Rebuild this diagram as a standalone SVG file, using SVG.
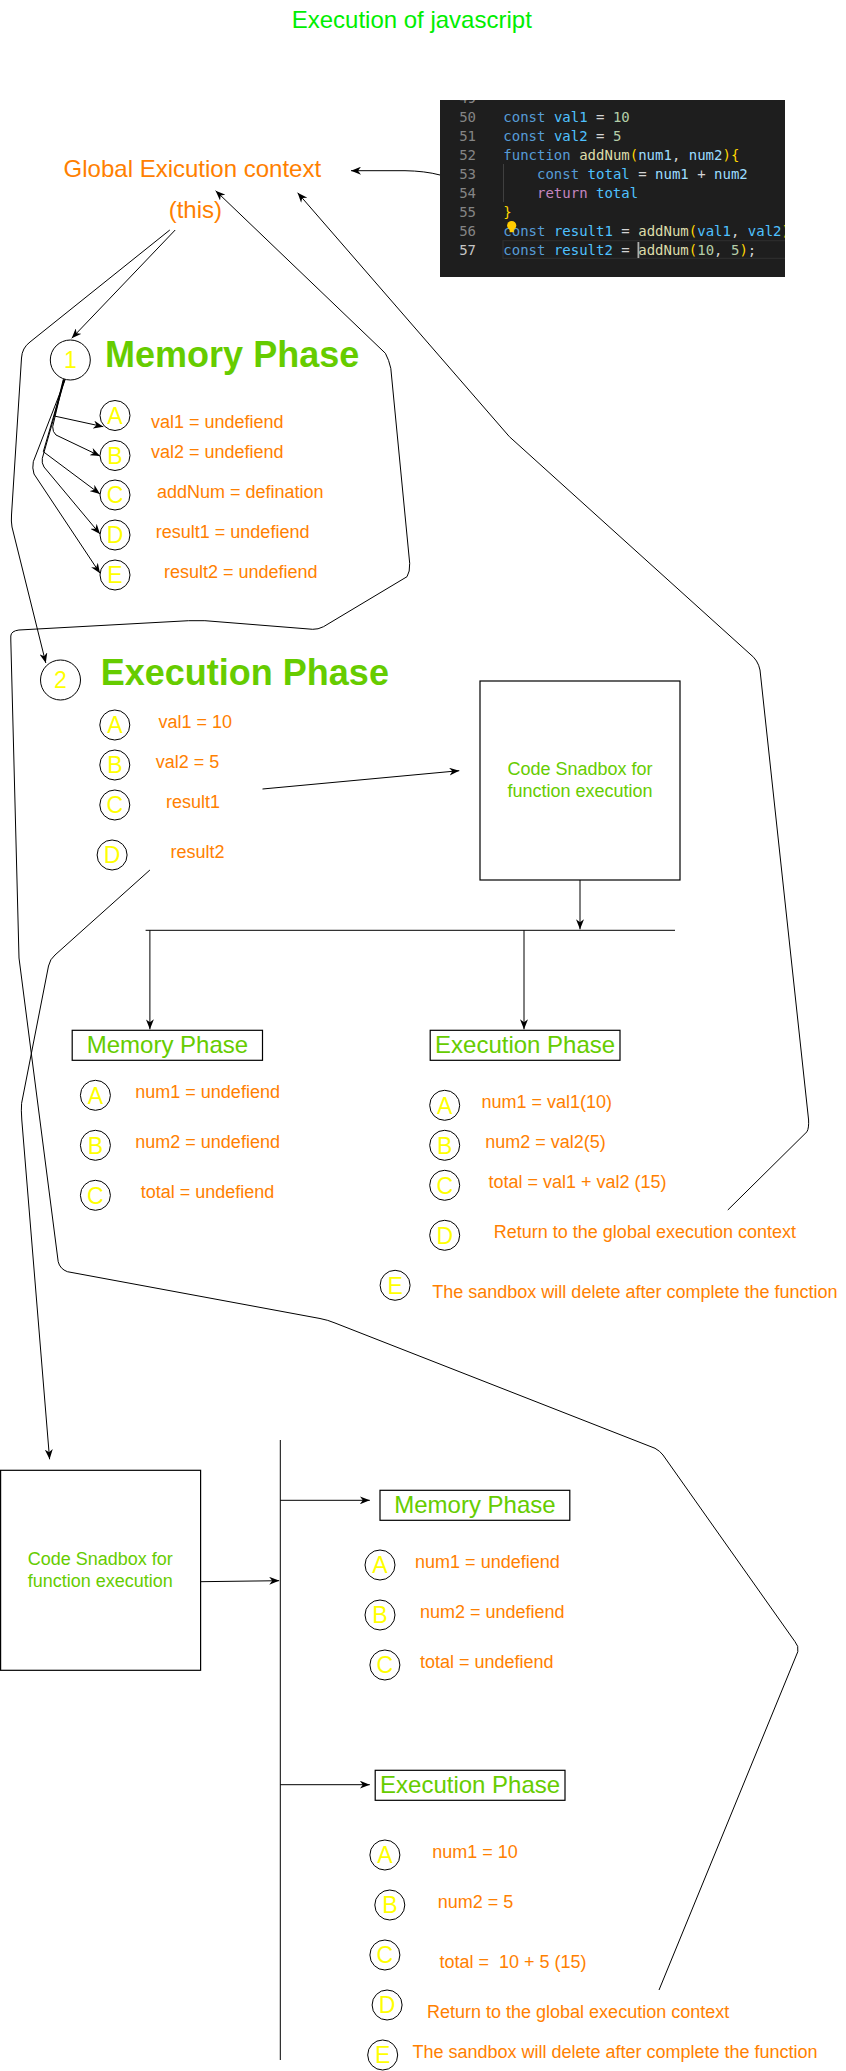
<svg xmlns="http://www.w3.org/2000/svg" width="846" height="2071" viewBox="0 0 846 2071">
<defs>
<style>
text{font-family:"Liberation Sans",Arial,sans-serif}
.o{font-size:18px;fill:#FF8000}
.g18{font-size:18px;fill:#66CC00;text-anchor:middle}
.g24{font-size:24px;fill:#66CC00;text-anchor:middle}
.big{font-size:36px;font-weight:bold;fill:#66CC00}
.lt{font-size:23px;fill:#FFFF00;text-anchor:middle}
.c{fill:#fff;stroke:#000;stroke-width:1}
.bx{fill:#fff;stroke:#000;stroke-width:1.2}
.e{fill:none;stroke:#000;stroke-width:1}
.m{marker-end:url(#arr)}
.code{font-family:"DejaVu Sans Mono",monospace;font-size:14px;fill:#d4d4d4}
.ln{font-family:"DejaVu Sans Mono",monospace;font-size:14px;fill:#858585;text-anchor:end}
.k{fill:#569cd6}.v{fill:#4fc1ff}.p{fill:#9cdcfe}.n{fill:#b5cea8}.f{fill:#dcdcaa}.b{fill:#ffd700}.r{fill:#c586c0}
</style>
<marker id="arr" viewBox="0 0 10 8" refX="10" refY="4" markerWidth="10" markerHeight="8" orient="auto" markerUnits="userSpaceOnUse">
<path d="M0,0 L10,4 L0,8 L3,4 z" fill="#000"/>
</marker>
<clipPath id="codeclip"><rect x="440" y="100" width="345" height="177"/></clipPath>
</defs>
<rect width="846" height="2071" fill="#fff"/>

<g id="title"><text x="291.7" y="28.3" style="font-size:24px;fill:#00EE00">Execution of javascript</text></g>

<g id="code-snippet">
<rect x="440" y="100" width="345" height="177" fill="#1e1e1e"/>
<g clip-path="url(#codeclip)">
<rect x="503" y="240.7" width="290" height="17.6" fill="none" stroke="#303030" stroke-width="1"/>
<line x1="503.5" y1="164" x2="503.5" y2="202" stroke="#404040" stroke-width="1"/>
<text class="ln" x="476" y="102.5">49</text>
<text class="ln" x="476" y="121.5">50</text>
<text class="ln" x="476" y="140.5">51</text>
<text class="ln" x="476" y="159.5">52</text>
<text class="ln" x="476" y="178.5">53</text>
<text class="ln" x="476" y="197.5">54</text>
<text class="ln" x="476" y="216.5">55</text>
<text class="ln" x="476" y="235.5">56</text>
<text class="ln" x="476" y="254.5" style="fill:#c6c6c6">57</text>
<text class="code" x="503.3" y="121.5" xml:space="preserve"><tspan class="k">const</tspan> <tspan class="v">val1</tspan> = <tspan class="n">10</tspan></text>
<text class="code" x="503.3" y="140.5" xml:space="preserve"><tspan class="k">const</tspan> <tspan class="v">val2</tspan> = <tspan class="n">5</tspan></text>
<text class="code" x="503.3" y="159.5" xml:space="preserve"><tspan class="k">function</tspan> <tspan class="f">addNum</tspan><tspan class="b">(</tspan><tspan class="p">num1</tspan>, <tspan class="p">num2</tspan><tspan class="b">){</tspan></text>
<text class="code" x="537" y="178.5" xml:space="preserve"><tspan class="k">const</tspan> <tspan class="v">total</tspan> = <tspan class="p">num1</tspan> + <tspan class="p">num2</tspan></text>
<text class="code" x="537" y="197.5" xml:space="preserve"><tspan class="r">return</tspan> <tspan class="v">total</tspan></text>
<text class="code" x="503.3" y="216.5"><tspan class="b">}</tspan></text>
<text class="code" x="503.3" y="235.5" xml:space="preserve"><tspan class="k">const</tspan> <tspan class="v">result1</tspan> = <tspan class="f">addNum</tspan><tspan class="b">(</tspan><tspan class="v">val1</tspan>, <tspan class="v">val2</tspan><tspan class="b">)</tspan>;</text>
<text class="code" x="503.3" y="254.5" xml:space="preserve"><tspan class="k">const</tspan> <tspan class="v">result2</tspan> = <tspan class="f">addNum</tspan><tspan class="b">(</tspan><tspan class="n">10</tspan>, <tspan class="n">5</tspan><tspan class="b">)</tspan>;</text>
<rect x="637.5" y="242" width="1.8" height="16" fill="#aeafad"/>
<circle cx="511.7" cy="225.5" r="4.6" fill="#ffcc00"/>
<rect x="509.6" y="229" width="4.2" height="3.2" fill="#ffcc00"/>
</g>
</g>

<g id="global-context">
<text x="63.6" y="176.7" style="font-size:24px;fill:#FF8000">Global Exicution context</text>
<text x="168.7" y="218.3" style="font-size:24px;fill:#FF8000">(this)</text>
</g>

<g id="connectors">
<path class="e m" d="M440,175 Q425,171 405,170.7 L351,170.7"/>
<path class="e m" d="M169.8,230 L30,342 Q22,348 21.5,358 L11.5,515 Q11,521 12,527 L45.8,663"/>
<path class="e m" d="M175.2,230 L71.7,338.3"/>
<path class="e m" d="M659,1990 L797.8,1651.7 Q799,1646 795,1641.7 L663,1455 Q660,1451 655,1448.3 L335,1323 Q328,1320 320,1318.5 L67.4,1271.7 Q60,1269 58.2,1261.7 L19,958 L10.8,640 L10.8,636 Q11,631 18.9,630 L188.7,620.7 L204.9,620.7 L312.7,629.3 Q318,629.5 323.5,626.7 L407,576.7 Q410,572 409.7,563.3 L390.8,368.3 Q389,360 385.4,353.3 L215.6,190.7"/>
<path class="e m" d="M727.8,1210 L807,1131.7 Q809,1128 808.6,1120 L760,670 Q758,660 750,654 L509.4,436.7 L297.6,192.7"/>
<path class="e m" d="M149.9,870 L55,955 Q50,959 48.5,966 L21.6,1103.3 Q21,1110 21.8,1120 L49.6,1459.3"/>
<path class="e m" d="M262.5,789 L459.3,770.7"/>
<path class="e m" d="M63.3,379.3 L54.3,416 L103.3,426.7"/>
<path class="e m" d="M63.8,379.3 L52.7,426.7 Q52.5,432 56,435 L100,456"/>
<path class="e m" d="M64.3,379.3 L43.3,451.7 L100,494"/>
<path class="e m" d="M64.8,379.3 L42.3,458.3 Q41.5,463 44,467 L100,534"/>
<path class="e m" d="M65.3,379.3 L33.3,461.7 Q32,468 34,474 L100,573.3"/>
<path class="e m" d="M580,880 L580,929.3"/>
<path class="e" d="M145.6,930.3 L675,930.3"/>
<path class="e m" d="M149.9,930.3 L149.9,1029.3"/>
<path class="e m" d="M524,930.3 L524,1029.3"/>
<path class="e m" d="M200.5,1581.7 L279.2,1580.7"/>
<path class="e" d="M280.3,1440 L280.3,2060"/>
<path class="e m" d="M280.3,1500.3 L369.8,1500.3"/>
<path class="e m" d="M280.3,1784.7 L369.8,1784.7"/>
</g>

<g id="memory-phase-1">
<g id="n1"><circle class="c" cx="70.3" cy="360" r="20"/><text class="lt" x="70.3" y="368.2">1</text></g>
<text class="big" x="105.1" y="366.7">Memory Phase</text>
<g id="m1a"><circle class="c" cx="115" cy="415.5" r="15"/><text class="lt" x="115" y="423.7">A</text></g>
<g id="m1b"><circle class="c" cx="115" cy="455.5" r="15"/><text class="lt" x="115" y="463.7">B</text></g>
<g id="m1c"><circle class="c" cx="115" cy="495" r="15"/><text class="lt" x="115" y="503.2">C</text></g>
<g id="m1d"><circle class="c" cx="115" cy="535" r="15"/><text class="lt" x="115" y="543.2">D</text></g>
<g id="m1e"><circle class="c" cx="115" cy="575" r="15"/><text class="lt" x="115" y="583.2">E</text></g>
<text class="o" x="150.9" y="427.7">val1 = undefiend</text>
<text class="o" x="150.9" y="457.7">val2 = undefiend</text>
<text class="o" x="156.9" y="497.7">addNum = defination</text>
<text class="o" x="155.8" y="537.7">result1 = undefiend</text>
<text class="o" x="163.9" y="577.7">result2 = undefiend</text>
</g>

<g id="execution-phase-1">
<g id="n2"><circle class="c" cx="60.5" cy="680" r="20"/><text class="lt" x="60.5" y="688.2">2</text></g>
<text class="big" x="100.8" y="685">Execution Phase</text>
<g id="e1a"><circle class="c" cx="114.8" cy="725" r="15"/><text class="lt" x="114.8" y="733.2">A</text></g>
<g id="e1b"><circle class="c" cx="114.8" cy="765" r="15"/><text class="lt" x="114.8" y="773.2">B</text></g>
<g id="e1c"><circle class="c" cx="114.8" cy="805" r="15"/><text class="lt" x="114.8" y="813.2">C</text></g>
<g id="e1d"><circle class="c" cx="112.1" cy="855" r="15"/><text class="lt" x="112.1" y="863.2">D</text></g>
<text class="o" x="158.5" y="727.7">val1 = 10</text>
<text class="o" x="155.8" y="767.7">val2 = 5</text>
<text class="o" x="166" y="807.7">result1</text>
<text class="o" x="170.4" y="857.7">result2</text>
</g>

<g id="sandbox-1">
<rect class="bx" x="480" y="681" width="200" height="199"/>
<text class="g18" x="580" y="775">Code Snadbox for</text>
<text class="g18" x="580" y="797">function execution</text>
</g>

<g id="sandbox-1-memory">
<rect class="bx" x="72.2" y="1030.3" width="190.3" height="30"/>
<text class="g24" x="167.4" y="1053.2">Memory Phase</text>
<g><circle class="c" cx="95.4" cy="1095.3" r="15"/><text class="lt" x="95.4" y="1103.5">A</text></g>
<g><circle class="c" cx="95.4" cy="1145.3" r="15"/><text class="lt" x="95.4" y="1153.5">B</text></g>
<g><circle class="c" cx="95.4" cy="1195.3" r="15"/><text class="lt" x="95.4" y="1203.5">C</text></g>
<text class="o" x="135.3" y="1097.7">num1 = undefiend</text>
<text class="o" x="135.3" y="1147.7">num2 = undefiend</text>
<text class="o" x="140.7" y="1197.7">total = undefiend</text>
</g>

<g id="sandbox-1-execution">
<rect class="bx" x="430.2" y="1030.3" width="189.8" height="30"/>
<text class="g24" x="525.1" y="1053.2">Execution Phase</text>
<g><circle class="c" cx="444.7" cy="1105.3" r="15"/><text class="lt" x="444.7" y="1113.5">A</text></g>
<g><circle class="c" cx="444.7" cy="1145.3" r="15"/><text class="lt" x="444.7" y="1153.5">B</text></g>
<g><circle class="c" cx="444.7" cy="1185.3" r="15"/><text class="lt" x="444.7" y="1193.5">C</text></g>
<g><circle class="c" cx="444.7" cy="1235.3" r="15"/><text class="lt" x="444.7" y="1243.5">D</text></g>
<g><circle class="c" cx="395.1" cy="1285.3" r="15"/><text class="lt" x="395.1" y="1293.5">E</text></g>
<text class="o" x="481.4" y="1107.7">num1 = val1(10)</text>
<text class="o" x="485.2" y="1147.7">num2 = val2(5)</text>
<text class="o" x="488.4" y="1187.7">total = val1 + val2 (15)</text>
<text class="o" x="493.8" y="1237.7">Return to the global execution context</text>
<text class="o" x="432.3" y="1297.7">The sandbox will delete after complete the function</text>
</g>

<g id="sandbox-2">
<rect class="bx" x="0.6" y="1470.3" width="200" height="200"/>
<text class="g18" x="100.3" y="1565">Code Snadbox for</text>
<text class="g18" x="100.3" y="1587">function execution</text>
</g>

<g id="sandbox-2-memory">
<rect class="bx" x="380" y="1490.3" width="189.8" height="30"/>
<text class="g24" x="474.9" y="1513.2">Memory Phase</text>
<g><circle class="c" cx="380" cy="1565" r="15"/><text class="lt" x="380" y="1573.2">A</text></g>
<g><circle class="c" cx="380" cy="1615" r="15"/><text class="lt" x="380" y="1623.2">B</text></g>
<g><circle class="c" cx="384.9" cy="1665" r="15"/><text class="lt" x="384.9" y="1673.2">C</text></g>
<text class="o" x="415.1" y="1567.7">num1 = undefiend</text>
<text class="o" x="420" y="1617.7">num2 = undefiend</text>
<text class="o" x="420" y="1667.7">total = undefiend</text>
</g>

<g id="sandbox-2-execution">
<rect class="bx" x="375.2" y="1770.3" width="189.8" height="30"/>
<text class="g24" x="470.1" y="1793.2">Execution Phase</text>
<g><circle class="c" cx="384.9" cy="1855" r="15"/><text class="lt" x="384.9" y="1863.2">A</text></g>
<g><circle class="c" cx="389.8" cy="1905" r="15"/><text class="lt" x="389.8" y="1913.2">B</text></g>
<g><circle class="c" cx="384.9" cy="1955" r="15"/><text class="lt" x="384.9" y="1963.2">C</text></g>
<g><circle class="c" cx="387.1" cy="2005" r="15"/><text class="lt" x="387.1" y="2013.2">D</text></g>
<g><circle class="c" cx="382.7" cy="2055" r="15"/><text class="lt" x="382.7" y="2063.2">E</text></g>
<text class="o" x="432.3" y="1857.7">num1 = 10</text>
<text class="o" x="437.7" y="1907.7">num2 = 5</text>
<text class="o" x="439.4" y="1967.7" xml:space="preserve">total =  10 + 5 (15)</text>
<text class="o" x="427" y="2017.7">Return to the global execution context</text>
<text class="o" x="412.4" y="2057.7">The sandbox will delete after complete the function</text>
</g>
</svg>
